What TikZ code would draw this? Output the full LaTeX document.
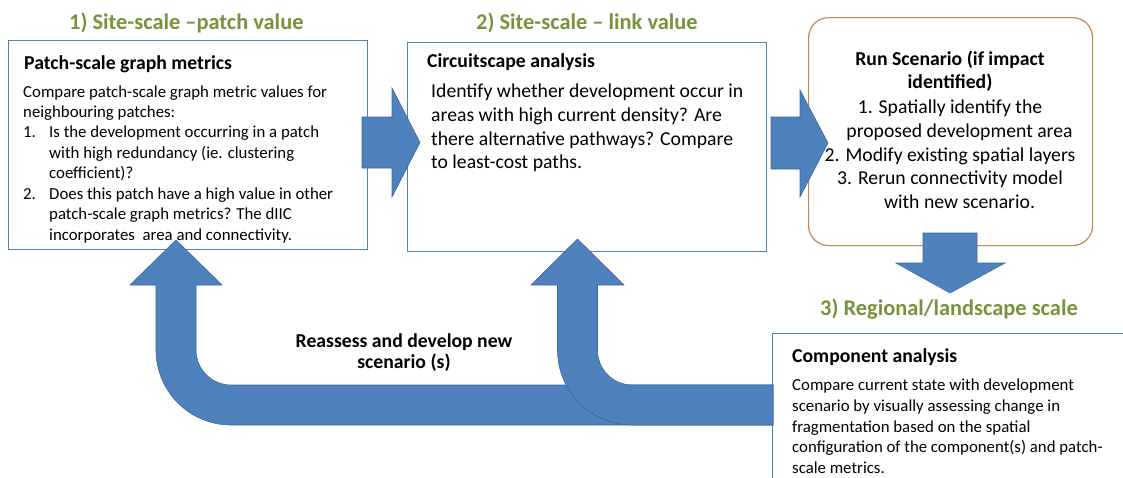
\documentclass[tikz,border=0pt]{standalone}
\usepackage{fontspec}
\setmainfont{Carlito}
\definecolor{ttlgreen}{HTML}{77933C}
\definecolor{boxblue}{HTML}{4F81BD}
\definecolor{arrowblue}{HTML}{4F81BD}
\definecolor{arrowedge}{HTML}{3A689F}
\definecolor{boxorange}{HTML}{C5874F}
\tikzset{
  boxline/.style={draw=boxblue, line width=1.2pt},
  blockarrow/.style={fill=arrowblue, draw=arrowedge, line width=0.6pt},
  ttl/.style={anchor=base west, inner sep=0pt, text=ttlgreen, font=\fontsize{22.4}{26}\selectfont\bfseries},
  hd/.style={anchor=base west, inner sep=0pt, font=\fontsize{19.7}{24}\selectfont\bfseries},
  bodys/.style={anchor=base west, inner sep=0pt, font=\fontsize{16.8}{20}\selectfont},
  bodyl/.style={anchor=base west, inner sep=0pt, font=\fontsize{19.7}{24}\selectfont},
  bodyc/.style={anchor=base, inner sep=0pt, font=\fontsize{19.7}{24}\selectfont},
  hdc/.style={anchor=base, inner sep=0pt, font=\fontsize{19.7}{24}\selectfont\bfseries},
  rt/.style={anchor=base, inner sep=0pt, font=\fontsize{19.7}{24}\selectfont\bfseries},
}
\begin{document}
\begin{tikzpicture}[x=1pt,y=-1pt]
\useasboundingbox (0,0) rectangle (1123,477);
\clip (0,0) rectangle (1123,477);

% boxes
\node[boxline, anchor=north west, minimum width=359pt, minimum height=209pt, inner sep=0pt] (box1) at (8,40) {};
\node[boxline, anchor=north west, minimum width=359pt, minimum height=209pt, inner sep=0pt] (box2) at (407,42) {};
\node[draw=boxorange, line width=1.2pt, rounded corners=20pt, anchor=north west, minimum width=284pt, minimum height=228pt, inner sep=0pt] (box3) at (808,17) {};
\node[boxline, anchor=north west, minimum width=360pt, minimum height=160pt, inner sep=0pt] (box4) at (772,333) {};

% block arrows
\path[blockarrow] (362,117) -- (392,117) -- (392,88) -- (420,142.5) -- (392,197) -- (392,168) -- (362,168) -- cycle;
\path[blockarrow] (771,117) -- (800,117) -- (800,90) -- (828,143) -- (800,197) -- (800,169) -- (771,169) -- cycle;
\path[blockarrow] (923,233) -- (977,233) -- (977,263) -- (1005,263) -- (950,293) -- (896,263) -- (923,263) -- cycle;

% U-turn arrows
\path[blockarrow] (176,240) -- (222,285) -- (196,285) -- (196,350)
  .. controls (196,369.3) and (211.7,385) .. (231,385) -- (773,385) -- (773,425) -- (231,425)
  .. controls (189.6,425) and (156,391.4) .. (156,350) -- (156,285) -- (130,285) -- cycle;
\path[blockarrow] (577.5,239) -- (624,285) -- (597.5,285) -- (597.5,350)
  .. controls (597.5,369.3) and (612.8,385) .. (632.5,385) -- (773,385) -- (773,425) -- (632.5,425)
  .. controls (591.1,425) and (557.5,391.4) .. (557.5,350) -- (557.5,285) -- (531,285) -- cycle;

% titles
\node[ttl] (ttl1) at (69,29.5) {1) Site-scale –patch value};
\node[ttl] (ttl2) at (476,29.5) {2) Site-scale – link value};
\node[ttl] (ttl3) at (820,315) {3) Regional/landscape scale};

% box 1 text
\node[hd] (h1) at (24,69) {Patch-scale graph metrics};
\node[bodys] (a1) at (23,97) {Compare patch-scale graph metric values for};
\node[bodys] (a2) at (23,117) {neighbouring patches:};
\node[bodys] (a3n) at (23,137) {1.};
\node[bodys] (a3) at (49,137) {Is the development occurring in a patch};
\node[bodys] (a4) at (49,158) {with high redundancy (ie. clustering};
\node[bodys] (a5) at (49,178) {coefficient)?};
\node[bodys] (a6n) at (23,199) {2.};
\node[bodys] (a6) at (49,199) {Does this patch have a high value in other};
\node[bodys] (a7) at (49,219) {patch-scale graph metrics? The dIIC};
\node[bodys] (a8) at (49,240) {incorporates\ \ area and connectivity.};

% box 2 text
\node[hd] (h2) at (427,67) {Circuitscape analysis};
\node[bodyl] (c1) at (431,97) {Identify whether development occur in};
\node[bodyl] (c2) at (431,121) {areas with high current density? Are};
\node[bodyl] (c3) at (431,145) {there alternative pathways? Compare};
\node[bodyl] (c4) at (431,168) {to least-cost paths.};

% box 3 text
\node[hdc] (h3a) at (950,65) {Run Scenario (if impact};
\node[hdc] (h3b) at (950,88) {identified)};
\node[bodyc] (d1) at (950,113) {1. Spatially identify the};
\node[bodyc] (d2) at (959.5,137) {proposed development area};
\node[bodyc] (d3) at (950,161) {2. Modify existing spatial layers};
\node[bodyc] (d4) at (950,184) {3. Rerun connectivity model};
\node[bodyc] (d5) at (959.5,208) {with new scenario.};

% box 4 text
\node[hd] (h4) at (792,362) {Component analysis};
\node[bodys] (e1) at (792,390) {Compare current state with development};
\node[bodys] (e2) at (792,411) {scenario by visually assessing change in};
\node[bodys] (e3) at (792,432) {fragmentation based on the spatial};
\node[bodys] (e4) at (792,452) {configuration of the component(s) and patch-};
\node[bodys] (e5) at (792,473) {scale metrics.};

% loop label
\node[rt] (r1) at (404,347) {Reassess and develop new};
\node[rt] (r2) at (404,368) {scenario (s)};
\end{tikzpicture}
\end{document}
